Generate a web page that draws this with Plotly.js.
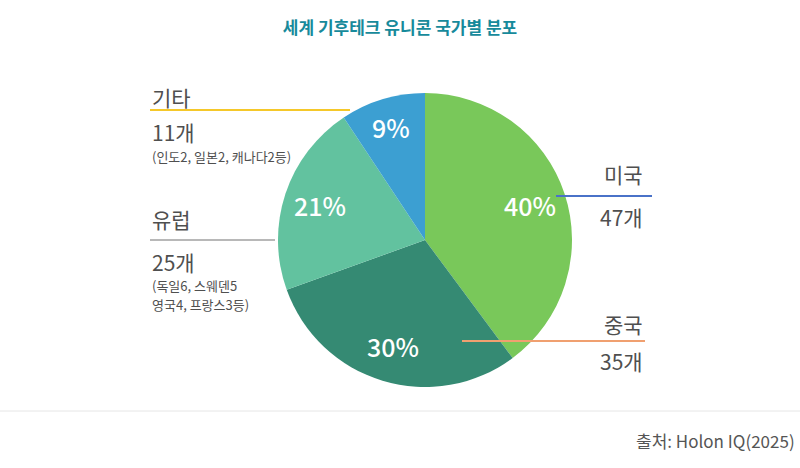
<!DOCTYPE html>
<html>
<head>
<meta charset="utf-8">
<script src="https://cdn.plot.ly/plotly-3.0.1.min.js"></script>
<style>
  html, body { margin: 0; padding: 0; background: #fff; }
  #chart { width: 800px; height: 468px; }
</style>
</head>
<body>
<div id="chart"></div>
<script>
// data
const countries = ['미국', '중국', '유럽', '기타'];
const counts = [47, 35, 25, 11];
const details = [[], [], ['(독일6, 스웨덴5', '영국4, 프랑스3등)'], ['(인도2, 일본2, 캐나다2등)']];

const sliceColors = ['#79c85a', '#358a73', '#62c29f', '#3c9fd2'];
const lineColors = ['#4a72c8', '#f0a070', '#b8b8b8', '#f5c82a'];

const W = 800, H = 468;
const px = x => x / W;
const py = y => 1 - y / H;

// pie centre and radius in pixels
const CX = 425, CY = 240, R = 147;

/**
 * Where each callout sits, in pixels: name, leader line, count, note.
 */
const callouts = [
  {align: 'right', x: 645, nameY: 174, line: [556, 652, 196], countY: 217},
  {align: 'right', x: 645, nameY: 324, line: [462, 645, 341], countY: 361},
  {align: 'left',  x: 150, nameY: 219, line: [150, 275, 240], countY: 262, noteY: 285},
  {align: 'left',  x: 150, nameY: 97,  line: [150, 350, 110], countY: 132, noteY: 157}
];
const NOTE_GAP = 19;

const labelFont = {family: 'Noto Sans CJK KR', size: 21, color: '#4f4f4f'};

const trace = {
  type: 'pie',
  labels: countries,
  values: counts,
  sort: false,
  direction: 'clockwise',
  rotation: 0,
  marker: {colors: sliceColors, line: {width: 0}},
  textinfo: 'none',
  hoverinfo: 'label+value+percent',
  domain: {x: [px(CX - R), px(CX + R)], y: [py(CY + R), py(CY - R)]},
  showlegend: false
};

const shapes = [];
const annotations = [];

function _sum(arr){
  return arr.reduce((a, b) => a + b, 0);
}

// percentage labels, placed at each slice's middle angle
const total = _sum(counts);
let cum = 0;
counts.forEach(function(v){
  const frac = v / total;
  const mid = (cum + frac / 2) * 2 * Math.PI;
  cum += frac;
  const dist = R * (frac < 0.15 ? 0.8 : 0.75);
  annotations.push({
    text: Math.round(frac * 100) + '%', xref: 'paper', yref: 'paper',
    x: px(CX + dist * Math.sin(mid)), y: py(CY - dist * Math.cos(mid)),
    xanchor: 'center', yanchor: 'middle', showarrow: false,
    font: {family: 'Noto Sans CJK KR', size: 25, color: '#fff', weight: 500}
  });
});

callouts.forEach(function(c, i){
  shapes.push({
    type: 'line', xref: 'paper', yref: 'paper',
    x0: px(c.line[0]), x1: px(c.line[1]), y0: py(c.line[2]), y1: py(c.line[2]),
    line: {color: lineColors[i], width: 2}
  });
  const anchor = c.align === 'right' ? 'right' : 'left';
  annotations.push({
    text: countries[i], xref: 'paper', yref: 'paper',
    x: px(c.x), y: py(c.nameY), xanchor: anchor, yanchor: 'middle',
    showarrow: false, font: labelFont
  });
  annotations.push({
    text: counts[i] + '개', xref: 'paper', yref: 'paper',
    x: px(c.x), y: py(c.countY), xanchor: anchor, yanchor: 'middle',
    showarrow: false, font: labelFont
  });
  details[i].forEach(function(line, k){
    annotations.push({
      text: line, xref: 'paper', yref: 'paper',
      x: px(c.x), y: py(c.noteY + k * NOTE_GAP), xanchor: anchor, yanchor: 'middle',
      showarrow: false, font: {family: 'Noto Sans CJK KR', size: 13, color: '#4f4f4f'}
    });
  });
});

// footer rule and source
shapes.push({
  type: 'line', xref: 'paper', yref: 'paper',
  x0: 0, x1: 1, y0: py(411), y1: py(411),
  line: {color: '#e6e6e6', width: 1}
});
annotations.push({
  text: '출처: Holon IQ(2025)', xref: 'paper', yref: 'paper',
  x: px(797), y: py(440), xanchor: 'right', yanchor: 'middle',
  showarrow: false, font: {family: 'Noto Sans CJK KR', size: 17, color: '#555'}
});

const layout = {
  width: W,
  height: H,
  margin: {l: 0, r: 0, t: 0, b: 0},
  paper_bgcolor: '#fff',
  title: {
    text: '<b>세계 기후테크 유니콘 국가별 분포</b>',
    x: 0.5, xanchor: 'center', y: py(28), yanchor: 'middle',
    font: {family: 'Noto Sans CJK KR', size: 17, color: '#178a9b'}
  },
  shapes: shapes,
  annotations: annotations
};

Plotly.newPlot('chart', [trace], layout, {displayModeBar: false, staticPlot: true});
</script>
</body>
</html>
